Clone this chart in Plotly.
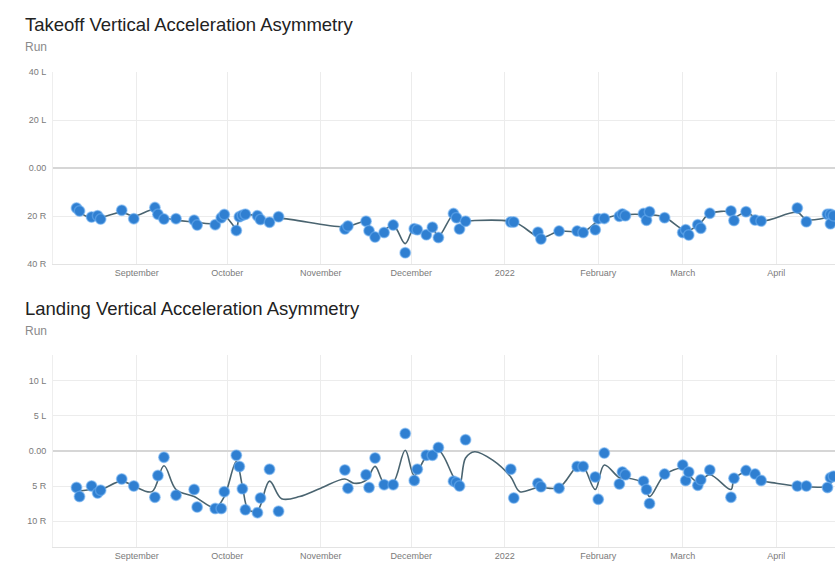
import plotly.graph_objects as go

# ---- data (L = positive, R = negative) ----
takeoff_dates = [
    "2021-08-12", "2021-08-13", "2021-08-17", "2021-08-19", "2021-08-20", "2021-08-27",
    "2021-08-31", "2021-09-07", "2021-09-08", "2021-09-10", "2021-09-14", "2021-09-20",
    "2021-09-21", "2021-09-27", "2021-09-29", "2021-09-30", "2021-10-04", "2021-10-05",
    "2021-10-06", "2021-10-07", "2021-10-11", "2021-10-12", "2021-10-15", "2021-10-18",
    "2021-11-09", "2021-11-10", "2021-11-16", "2021-11-17", "2021-11-19", "2021-11-22",
    "2021-11-25", "2021-11-29", "2021-12-02", "2021-12-03", "2021-12-06", "2021-12-08",
    "2021-12-10", "2021-12-15", "2021-12-16", "2021-12-17", "2021-12-19", "2022-01-03",
    "2022-01-04", "2022-01-12", "2022-01-13", "2022-01-19", "2022-01-25", "2022-01-27",
    "2022-01-31", "2022-02-01", "2022-02-03", "2022-02-08", "2022-02-09", "2022-02-10",
    "2022-02-16", "2022-02-17", "2022-02-18", "2022-02-23", "2022-03-01", "2022-03-02",
    "2022-03-03", "2022-03-06", "2022-03-07", "2022-03-10", "2022-03-17", "2022-03-18",
    "2022-03-22", "2022-03-25", "2022-03-27", "2022-04-08", "2022-04-11", "2022-04-18",
    "2022-04-19", "2022-04-19", "2022-04-20",
]
takeoff_values = [
    -16.7, -17.9, -20.4, -19.9, -21.3, -17.6,
    -21.1, -16.5, -19.3, -21.3, -21.1, -21.8,
    -23.8, -23.6, -20.7, -19.4, -26.0, -20.3,
    -19.7, -19.3, -19.9, -21.5, -22.6, -20.3,
    -25.4, -24.2, -22.2, -26.1, -28.8, -26.9,
    -23.8, -35.3, -25.3, -25.7, -27.8, -24.7,
    -29.0, -19.0, -20.7, -25.4, -22.2, -22.5,
    -22.5, -26.8, -29.6, -26.3, -26.3, -26.9,
    -25.7, -21.1, -21.0, -20.1, -19.2, -19.9,
    -19.0, -21.8, -18.2, -20.7, -26.9, -25.7,
    -27.9, -23.6, -25.1, -18.9, -17.9, -21.9,
    -18.2, -21.7, -22.1, -16.7, -22.4, -19.3,
    -19.3, -23.2, -19.9,
]
takeoff_trend_dates = [
    "2021-08-12", "2021-08-15", "2021-08-20", "2021-08-27", "2021-08-31", "2021-09-07",
    "2021-09-10", "2021-09-20", "2021-09-27", "2021-09-30", "2021-10-04", "2021-10-05",
    "2021-10-07", "2021-10-11", "2021-10-15", "2021-10-18", "2021-11-09", "2021-11-16",
    "2021-11-19", "2021-11-25", "2021-11-29", "2021-12-02", "2021-12-06", "2021-12-08",
    "2021-12-10", "2021-12-15", "2021-12-17", "2021-12-19", "2022-01-04", "2022-01-13",
    "2022-01-19", "2022-01-27", "2022-02-01", "2022-02-03", "2022-02-09", "2022-02-18",
    "2022-02-23", "2022-03-02", "2022-03-06", "2022-03-10", "2022-03-17", "2022-03-18",
    "2022-03-22", "2022-03-27", "2022-04-08", "2022-04-11", "2022-04-20",
]
takeoff_trend = [
    -17.0, -20.0, -20.5, -18.5, -20.0, -17.3,
    -20.5, -22.5, -23.0, -20.0, -25.0, -20.5,
    -19.5, -20.0, -22.0, -21.0, -24.5, -22.5,
    -28.0, -24.0, -31.5, -25.0, -27.5, -25.0,
    -28.5, -19.5, -22.0, -22.0, -22.5, -29.0,
    -26.3, -26.5, -22.0, -21.0, -19.5, -19.5,
    -20.5, -26.0, -24.0, -19.0, -18.5, -20.5,
    -18.5, -22.0, -18.5, -21.5, -20.0,
]

landing_dates = [
    "2021-08-12", "2021-08-13", "2021-08-17", "2021-08-19", "2021-08-20", "2021-08-27",
    "2021-08-31", "2021-09-07", "2021-09-08", "2021-09-10", "2021-09-14", "2021-09-20",
    "2021-09-21", "2021-09-27", "2021-09-29", "2021-09-30", "2021-10-04", "2021-10-05",
    "2021-10-06", "2021-10-07", "2021-10-11", "2021-10-12", "2021-10-15", "2021-10-18",
    "2021-11-09", "2021-11-10", "2021-11-16", "2021-11-17", "2021-11-19", "2021-11-22",
    "2021-11-25", "2021-11-29", "2021-12-02", "2021-12-03", "2021-12-06", "2021-12-08",
    "2021-12-10", "2021-12-15", "2021-12-16", "2021-12-17", "2021-12-19", "2022-01-03",
    "2022-01-04", "2022-01-12", "2022-01-13", "2022-01-19", "2022-01-25", "2022-01-27",
    "2022-01-31", "2022-02-01", "2022-02-03", "2022-02-08", "2022-02-09", "2022-02-10",
    "2022-02-16", "2022-02-17", "2022-02-18", "2022-02-23", "2022-03-01", "2022-03-02",
    "2022-03-03", "2022-03-06", "2022-03-07", "2022-03-10", "2022-03-17", "2022-03-18",
    "2022-03-22", "2022-03-25", "2022-03-27", "2022-04-08", "2022-04-11", "2022-04-18",
    "2022-04-19", "2022-04-20",
]
landing_values = [
    -5.2, -6.5, -5.0, -6.0, -5.6, -4.0,
    -5.0, -6.6, -3.5, -0.9, -6.3, -5.5,
    -8.0, -8.2, -8.2, -5.8, -0.6, -2.2,
    -5.4, -8.4, -8.8, -6.7, -2.6, -8.6,
    -2.7, -5.3, -3.4, -5.2, -1.0, -4.8,
    -4.8, 2.5, -4.2, -2.6, -0.6, -0.6,
    0.5, -4.3, -4.5, -5.0, 1.6, -2.6,
    -6.7, -4.6, -5.1, -5.3, -2.2, -2.2,
    -3.7, -6.9, -0.3, -4.7, -3.0, -3.4,
    -4.3, -5.5, -7.5, -3.3, -2.0, -4.2,
    -3.0, -4.9, -4.1, -2.7, -6.6, -3.9,
    -2.8, -3.3, -4.2, -5.0, -5.0, -5.2,
    -3.8, -3.6,
]
landing_trend_dates = [
    "2021-08-12", "2021-08-17", "2021-08-20", "2021-08-27", "2021-08-31", "2021-09-06",
    "2021-09-10", "2021-09-14", "2021-09-20", "2021-09-27", "2021-09-30", "2021-10-04",
    "2021-10-06", "2021-10-08", "2021-10-11", "2021-10-15", "2021-10-19", "2021-10-25",
    "2021-11-01", "2021-11-09", "2021-11-12", "2021-11-16", "2021-11-19", "2021-11-22",
    "2021-11-25", "2021-11-29", "2021-12-02", "2021-12-06", "2021-12-10", "2021-12-15",
    "2021-12-17", "2021-12-19", "2021-12-22", "2021-12-28", "2022-01-03", "2022-01-06",
    "2022-01-12", "2022-01-19", "2022-01-25", "2022-01-27", "2022-01-31", "2022-02-03",
    "2022-02-08", "2022-02-10", "2022-02-16", "2022-02-18", "2022-02-23", "2022-03-01",
    "2022-03-03", "2022-03-06", "2022-03-10", "2022-03-17", "2022-03-18", "2022-03-22",
    "2022-03-27", "2022-04-01", "2022-04-08", "2022-04-18", "2022-04-20",
]
landing_trend = [
    -5.8, -5.5, -5.5, -4.3, -5.0, -5.8,
    -2.1, -5.5, -6.5, -8.1, -6.5, -1.5,
    -5.0, -8.4, -8.5, -4.3, -6.8, -6.5,
    -5.3, -4.0, -4.6, -4.2, -2.2, -4.6,
    -4.5, 0.1, -3.5, -0.8, 0.1, -3.7,
    -4.9, -1.0, -0.1, -1.3, -3.7, -5.8,
    -5.2, -5.2, -2.2, -2.2, -5.5, -2.0,
    -3.8, -3.8, -4.6, -6.5, -3.4, -2.5,
    -3.4, -4.4, -3.4, -5.5, -4.1, -3.0,
    -4.2, -4.6, -5.0, -5.0, -3.9,
]

month_ticks = ["2021-09-01", "2021-10-01", "2021-11-01", "2021-12-01",
               "2022-01-01", "2022-02-01", "2022-03-01", "2022-04-01"]
month_labels = ["September", "October", "November", "December",
                "2022", "February", "March", "April"]

takeoff_ticks = [40, 20, 0, -20, -40]
takeoff_ticklabels = ["40 L", "20 L", "0.00", "20 R", "40 R"]
landing_ticks = [10, 5, 0, -5, -10]
landing_ticklabels = ["10 L", "5 L", "0.00", "5 R", "10 R"]

W, H = 835, 586
LEFT = 53
LINE_COLOR = "#4a6470"
DOT_COLOR = "#2f7fd1"
GRID = "#ececec"
TICK_FONT = dict(family="Liberation Sans, Arial, sans-serif", size=9, color="#7a7a7a")


def py(pix):
    # screen pixel row -> paper fraction
    return 1 - pix / H


def add_panel(fig, xa, ya, dates, values, tdates, tvalues):
    # smoothed trend first so the dots sit on top
    fig.add_trace(go.Scatter(
        x=tdates, y=tvalues, xaxis=xa, yaxis=ya, mode="lines",
        line=dict(color=LINE_COLOR, width=1.6, shape="spline", smoothing=1.0),
        hoverinfo="skip",
    ))
    fig.add_trace(go.Scatter(
        x=dates, y=values, xaxis=xa, yaxis=ya, mode="markers",
        marker=dict(color=DOT_COLOR, size=10.5,
                    line=dict(color="rgba(110,175,240,0.55)", width=1.5)),
    ))


fig = go.Figure()
add_panel(fig, "x", "y", takeoff_dates, takeoff_values, takeoff_trend_dates, takeoff_trend)
add_panel(fig, "x2", "y2", landing_dates, landing_values, landing_trend_dates, landing_trend)

x_common = dict(
    type="date", range=["2021-08-04 05:00", "2022-04-20 12:00"],
    tickvals=month_ticks, ticktext=month_labels, tickfont=TICK_FONT,
    showgrid=True, gridcolor=GRID, gridwidth=1,
    showline=True, linecolor="#e3e3e3", linewidth=1,
    ticks="", zeroline=False, fixedrange=True, automargin=False,
)
y_common = dict(
    showgrid=True, gridcolor=GRID, gridwidth=1, tickfont=TICK_FONT,
    zeroline=True, zerolinecolor="#d6d6d6", zerolinewidth=2,
    showline=True, linecolor="#eeeeee", linewidth=1,
    ticks="", ticklabelstandoff=4, automargin=False,
)

fig.update_layout(
    width=W, height=H,
    margin=dict(l=LEFT, r=0, t=0, b=0),
    paper_bgcolor="white", plot_bgcolor="white",
    showlegend=False,
    xaxis=dict(x_common, anchor="y"),
    xaxis2=dict(x_common, anchor="y2"),
    yaxis=dict(y_common, anchor="x", domain=[py(264), py(72)], range=[-40, 40],
               tickvals=takeoff_ticks, ticktext=takeoff_ticklabels),
    yaxis2=dict(y_common, anchor="x2", domain=[py(547), py(355)], range=[-13.7, 13.7],
                tickvals=landing_ticks, ticktext=landing_ticklabels),
)

# titles and subtitles
title_font = dict(family="Liberation Sans, Arial, sans-serif", size=18.5, color="#222222")
sub_font = dict(family="Liberation Sans, Arial, sans-serif", size=12, color="#8a8a8a")
for text, ypix, font in [
    ("Takeoff Vertical Acceleration Asymmetry", 25, title_font),
    ("Run", 47, sub_font),
    ("Landing Vertical Acceleration Asymmetry", 308, title_font),
    ("Run", 331, sub_font),
]:
    fig.add_annotation(
        text=text, xref="paper", yref="paper",
        x=(23 - LEFT) / (W - LEFT), y=py(ypix),
        xanchor="left", yanchor="middle", showarrow=False, font=font,
    )

# drop the default page margin so the figure fills the window exactly
fig.write_html(
    "out.html",
    config={"displayModeBar": False},
    post_script="document.body.style.margin='0';document.body.style.overflow='hidden';",
)
